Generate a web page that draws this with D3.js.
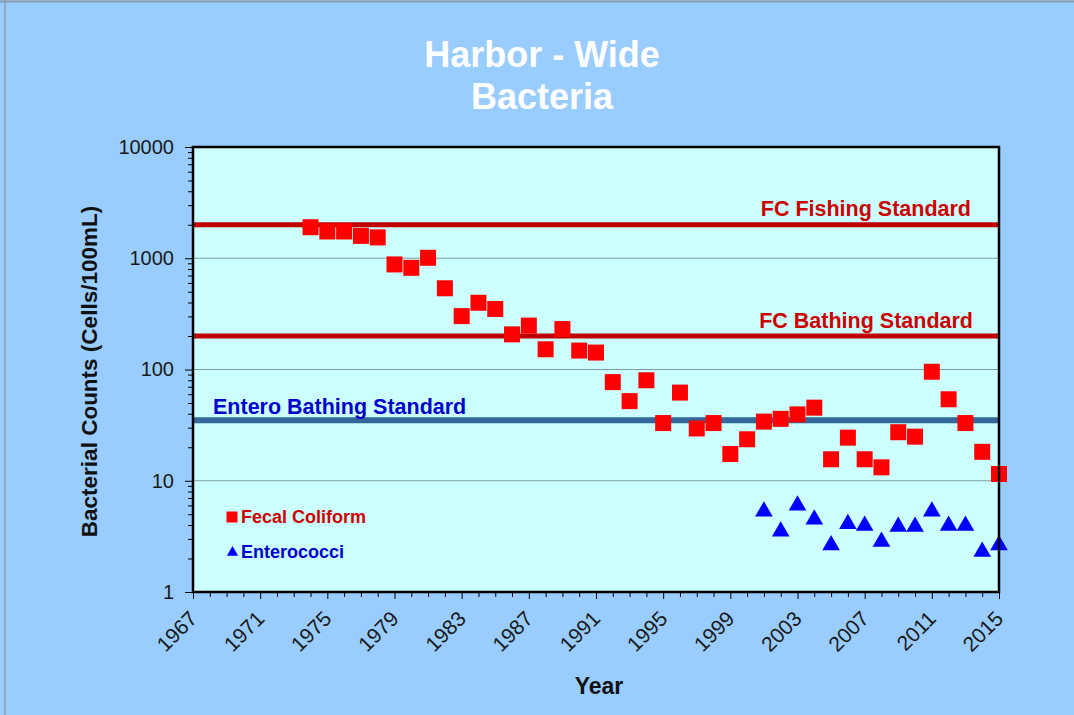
<!DOCTYPE html>
<html>
<head>
<meta charset="utf-8">
<script src="https://cdn.jsdelivr.net/npm/d3@7"></script>
<style>
  html, body { margin: 0; padding: 0; background: #99CCFF; }
  svg { display: block; font-family: "Liberation Sans", Arial, sans-serif; }
</style>
</head>
<body>
<svg id="chart" width="1074" height="715"></svg>
<script>
// Annual harbor-wide bacteria counts (cells/100mL)
const fcYears = [1974, 1975, 1976, 1977, 1978, 1979, 1980, 1981, 1982, 1983, 1984, 1985, 1986, 1987, 1988, 1989, 1990, 1991, 1992, 1993, 1994, 1995, 1996, 1997, 1998, 1999, 2000, 2001, 2002, 2003, 2004, 2005, 2006, 2007, 2008, 2009, 2010, 2011, 2012, 2013, 2014, 2015];
const fcValues = [1900, 1740, 1740, 1590, 1540, 880, 820, 1010, 537, 302, 398, 350, 207, 248, 152, 231, 148, 142, 77, 52, 80, 33, 62, 29.5, 33, 17.4, 23.6, 34, 36, 39.5, 45.4, 15.6, 24.4, 15.6, 13.2, 27.3, 24.9, 95.5, 54, 33, 18.2, 11.5];
const entYears = [2001, 2002, 2003, 2004, 2005, 2006, 2007, 2008, 2009, 2010, 2011, 2012, 2013, 2014, 2015];
const entValues = [5.3, 3.5, 6.0, 4.5, 2.64, 4.1, 3.94, 2.83, 3.86, 3.86, 5.3, 3.94, 3.94, 2.3, 2.64];

const standardNames = ["FC Fishing Standard", "FC Bathing Standard", "Entero Bathing Standard"];
const standardValues = [2000, 200, 35];

const yTickValues = [1, 10, 100, 1000, 10000];
const xTickYears = [1967, 1971, 1975, 1979, 1983, 1987, 1991, 1995, 1999, 2003, 2007, 2011, 2015];

const svg = d3.select("#chart");
const W = 1074, H = 715;
const plot = { left: 193, right: 999, top: 147, bottom: 592 };
const FONT = "'Liberation Sans', Arial, sans-serif";

// outer frame lines
svg.append("rect").attr("x", 0).attr("y", 0).attr("width", W).attr("height", H).attr("fill", "#99CCFF");
svg.append("line").attr("x1", 0).attr("x2", W).attr("y1", 1.5).attr("y2", 1.5).attr("stroke", "#8a9bb0").attr("stroke-width", 2);
svg.append("line").attr("x1", 5).attr("x2", 5).attr("y1", 0).attr("y2", H).attr("stroke", "#8a9bb0").attr("stroke-width", 1.5);

const x = d3.scaleLinear().domain([1967, 2015]).range([plot.left, plot.right]);
const y = d3.scaleLog().domain([1, 10000]).range([plot.bottom, plot.top]);

// plot background
svg.append("rect")
  .attr("x", plot.left).attr("y", plot.top)
  .attr("width", plot.right - plot.left).attr("height", plot.bottom - plot.top)
  .attr("fill", "#CCFFFF");

// decade gridlines
svg.append("g").selectAll("line")
  .data(yTickValues.slice(1, -1))
  .join("line")
  .attr("x1", plot.left).attr("x2", plot.right)
  .attr("y1", d => y(d)).attr("y2", d => y(d))
  .attr("stroke", "#7f9f9f").attr("stroke-width", 1.2);

// standard lines
const stdColors = ["#C00000", "#C00000", "#336699"];
const stdWidths = [5, 5, 6];
svg.append("g").selectAll("line")
  .data(standardValues)
  .join("line")
  .attr("x1", plot.left).attr("x2", plot.right)
  .attr("y1", d => y(d)).attr("y2", d => y(d))
  .attr("stroke", (d, i) => stdColors[i]).attr("stroke-width", (d, i) => stdWidths[i]);

// standard labels
svg.append("text").attr("x", 971).attr("y", y(standardValues[0]) - 9)
  .attr("text-anchor", "end").attr("fill", "#CC0000").attr("font-size", 21.5).attr("font-weight", "bold")
  .text(standardNames[0]);
svg.append("text").attr("x", 973).attr("y", y(standardValues[1]) - 8)
  .attr("text-anchor", "end").attr("fill", "#CC0000").attr("font-size", 21.5).attr("font-weight", "bold")
  .text(standardNames[1]);
svg.append("text").attr("x", 213).attr("y", y(standardValues[2]) - 6)
  .attr("text-anchor", "start").attr("fill", "#0000CC").attr("font-size", 21.5).attr("font-weight", "bold")
  .text(standardNames[2]);

// fecal coliform squares
const sq = 16;
svg.append("g").selectAll("rect")
  .data(fcYears.map((yr, i) => [yr, fcValues[i]]))
  .join("rect")
  .attr("x", d => x(d[0]) - sq / 2).attr("y", d => y(d[1]) - sq / 2)
  .attr("width", sq).attr("height", sq)
  .attr("fill", "#FF0000");

// enterococci triangles
const tri = d3.symbol().type(d3.symbolTriangle).size(135);
svg.append("g").selectAll("path")
  .data(entYears.map((yr, i) => [yr, entValues[i]]))
  .join("path")
  .attr("d", tri)
  .attr("transform", d => `translate(${x(d[0])},${y(d[1])})`)
  .attr("fill", "#0000FF");

// plot frame
svg.append("rect")
  .attr("x", plot.left).attr("y", plot.top)
  .attr("width", plot.right - plot.left).attr("height", plot.bottom - plot.top)
  .attr("fill", "none").attr("stroke", "#000").attr("stroke-width", 2.5);

// y axis
const yAxis = d3.axisLeft(y)
  .tickValues(d3.range(0, 4).flatMap(e => d3.range(1, 10).map(m => m * Math.pow(10, e))).concat([10000]))
  .tickSize(5)
  .tickFormat(d => yTickValues.includes(d) ? d : "");
const gy = svg.append("g").attr("transform", `translate(${plot.left},0)`).call(yAxis);
gy.select(".domain").remove();
gy.selectAll(".tick line").attr("stroke", "#000").attr("x2", d => yTickValues.includes(d) ? -8 : -5);
gy.selectAll(".tick text").attr("font-size", 20).attr("fill", "#1a1a1a").attr("x", -19)
  .attr("font-family", FONT);

// x axis
const xAxis = d3.axisBottom(x)
  .tickValues(d3.range(1967, 2016))
  .tickSize(5)
  .tickFormat(d => xTickYears.includes(d) ? d : "");
const gx = svg.append("g").attr("transform", `translate(0,${plot.bottom})`).call(xAxis);
gx.select(".domain").remove();
gx.selectAll(".tick line").attr("stroke", "#000").attr("y2", d => xTickYears.includes(d) ? 7 : 5);
gx.selectAll(".tick text")
  .attr("font-size", 21).attr("fill", "#1a1a1a")
  .attr("font-family", FONT)
  .attr("text-anchor", "end")
  .attr("dy", null).attr("y", 0)
  .attr("transform", "translate(5,28) rotate(-45)");

// axis titles
svg.append("text")
  .attr("transform", `translate(97,${(plot.top + plot.bottom) / 2 + 2}) rotate(-90)`)
  .attr("text-anchor", "middle").attr("font-size", 22.5).attr("font-weight", "bold").attr("fill", "#111")
  .attr("font-family", FONT)
  .text("Bacterial Counts (Cells/100mL)");
svg.append("text")
  .attr("x", (plot.left + plot.right) / 2 + 3).attr("y", 694)
  .attr("text-anchor", "middle").attr("font-size", 23).attr("font-weight", "bold").attr("fill", "#111")
  .attr("font-family", FONT)
  .text("Year");

// title
const title = svg.append("text").attr("text-anchor", "middle").attr("fill", "#FFFFFF")
  .attr("font-size", 36).attr("font-weight", "bold").attr("font-family", FONT);
title.append("tspan").attr("x", 542).attr("y", 67).text("Harbor - Wide");
title.append("tspan").attr("x", 542).attr("y", 109).text("Bacteria");

// legend
const legend = svg.append("g");
legend.append("rect").attr("x", 226.5).attr("y", 511.5).attr("width", 11).attr("height", 11).attr("fill", "#FF0000");
legend.append("text").attr("x", 241).attr("y", 523).attr("font-size", 18).attr("font-weight", "bold")
  .attr("fill", "#CC0000").text("Fecal Coliform");
legend.append("path").attr("d", d3.symbol().type(d3.symbolTriangle).size(55))
  .attr("transform", "translate(232.5,552.5)").attr("fill", "#0000FF");
legend.append("text").attr("x", 241).attr("y", 558).attr("font-size", 18).attr("font-weight", "bold")
  .attr("fill", "#0000CC").text("Enterococci");
</script>
</body>
</html>
